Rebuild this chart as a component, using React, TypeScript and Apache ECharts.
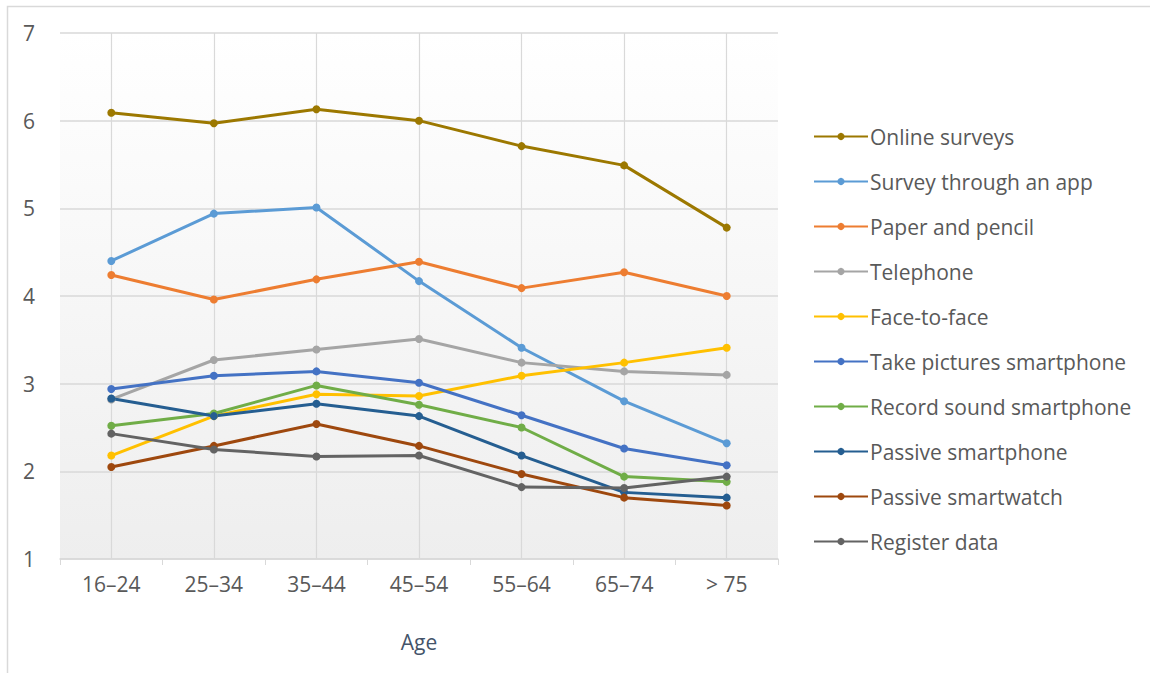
import React, { useEffect, useRef } from "react";
import * as echarts from "echarts";

const categories = ["16–24", "25–34", "35–44", "45–54", "55–64", "65–74", "> 75"];
const yTicks = [1, 7, 1]; // min, max, interval

const onlineSurveys = [6.09, 5.97, 6.13, 6.0, 5.71, 5.49, 4.78];
const surveyApp = [4.4, 4.94, 5.01, 4.17, 3.41, 2.8, 2.32];
const paperPencil = [4.24, 3.96, 4.19, 4.39, 4.09, 4.27, 4.0];
const telephone = [2.82, 3.27, 3.39, 3.51, 3.24, 3.14, 3.1];
const faceToFace = [2.18, 2.63, 2.88, 2.86, 3.09, 3.24, 3.41];
const takePictures = [2.94, 3.09, 3.14, 3.01, 2.64, 2.26, 2.07];
const recordSound = [2.52, 2.66, 2.98, 2.76, 2.5, 1.94, 1.88];
const passiveSmartphone = [2.83, 2.63, 2.77, 2.63, 2.18, 1.76, 1.7];
const passiveSmartwatch = [2.05, 2.29, 2.54, 2.29, 1.97, 1.7, 1.61];
const registerData = [2.43, 2.25, 2.17, 2.18, 1.82, 1.81, 1.94];

const seriesNames = [
  "Online surveys",
  "Survey through an app",
  "Paper and pencil",
  "Telephone",
  "Face-to-face",
  "Take pictures smartphone",
  "Record sound smartphone",
  "Passive smartphone",
  "Passive smartwatch",
  "Register data",
];
const seriesData = [
  onlineSurveys,
  surveyApp,
  paperPencil,
  telephone,
  faceToFace,
  takePictures,
  recordSound,
  passiveSmartphone,
  passiveSmartwatch,
  registerData,
];
const colors = [
  "#9C7800",
  "#5B9BD5",
  "#ED7D31",
  "#A5A5A5",
  "#FFC000",
  "#4472C4",
  "#70AD47",
  "#255E91",
  "#9E480E",
  "#636363",
];

const FONT = "Open Sans";

export default function App() {
  const ref = useRef<HTMLDivElement>(null);
  useEffect(() => {
    if (!ref.current) return;
    const chart = echarts.init(ref.current, null, { renderer: "svg" });
    chart.setOption({
      animation: false,
      backgroundColor: "#ffffff",
      color: colors,
      textStyle: { fontFamily: FONT },
      graphic: [
        {
          type: "rect",
          shape: { x: 7.5, y: 6.5, width: 1160, height: 690 },
          style: { fill: "none", stroke: "#d9d9d9", lineWidth: 1.5 },
          silent: true,
          z: -10,
        },
      ],
      grid: {
        left: 60,
        right: 372,
        top: 33,
        bottom: 114,
        show: true,
        borderWidth: 0,
        backgroundColor: {
          type: "linear",
          x: 0,
          y: 0,
          x2: 0,
          y2: 1,
          colorStops: [
            { offset: 0, color: "#ffffff" },
            { offset: 1, color: "#eeeeee" },
          ],
        },
      },
      legend: {
        orient: "vertical",
        left: 808,
        top: 121,
        itemWidth: 54,
        itemHeight: 9,
        itemGap: 24,
        textStyle: { fontFamily: FONT, fontSize: 21, color: "#595959", padding: [0, 0, 0, -3] },
        data: seriesNames,
      },
      xAxis: {
        type: "category",
        data: categories,
        boundaryGap: true,
        name: "Age",
        nameLocation: "middle",
        nameGap: 72,
        nameTextStyle: { fontFamily: FONT, fontSize: 21, color: "#44546A" },
        axisLine: { lineStyle: { color: "#d9d9d9", width: 1.5 } },
        axisTick: { show: true, length: 6, lineStyle: { color: "#d9d9d9" } },
        axisLabel: { margin: 14, fontFamily: FONT, fontSize: 21, color: "#595959" },
        splitLine: { show: true, alignWithLabel: true, lineStyle: { color: "#d9d9d9", width: 1.2 } },
      },
      yAxis: {
        type: "value",
        min: yTicks[0],
        max: yTicks[1],
        interval: yTicks[2],
        axisLine: { show: false },
        axisTick: { show: false },
        axisLabel: { margin: 25, fontFamily: FONT, fontSize: 21, color: "#595959" },
        splitLine: { lineStyle: { color: "#d9d9d9", width: 1.5 } },
      },
      series: seriesNames.map((name, i) => ({
        name,
        type: "line",
        data: seriesData[i],
        symbol: "circle",
        symbolSize: 8,
        lineStyle: { width: 3, color: colors[i] },
        itemStyle: { color: colors[i] },
      })),
    });
    return () => chart.dispose();
  }, []);
  return (
    <div
      ref={ref}
      style={{ position: "fixed", left: 0, top: 0, width: 1150, height: 673 }}
    />
  );
}
